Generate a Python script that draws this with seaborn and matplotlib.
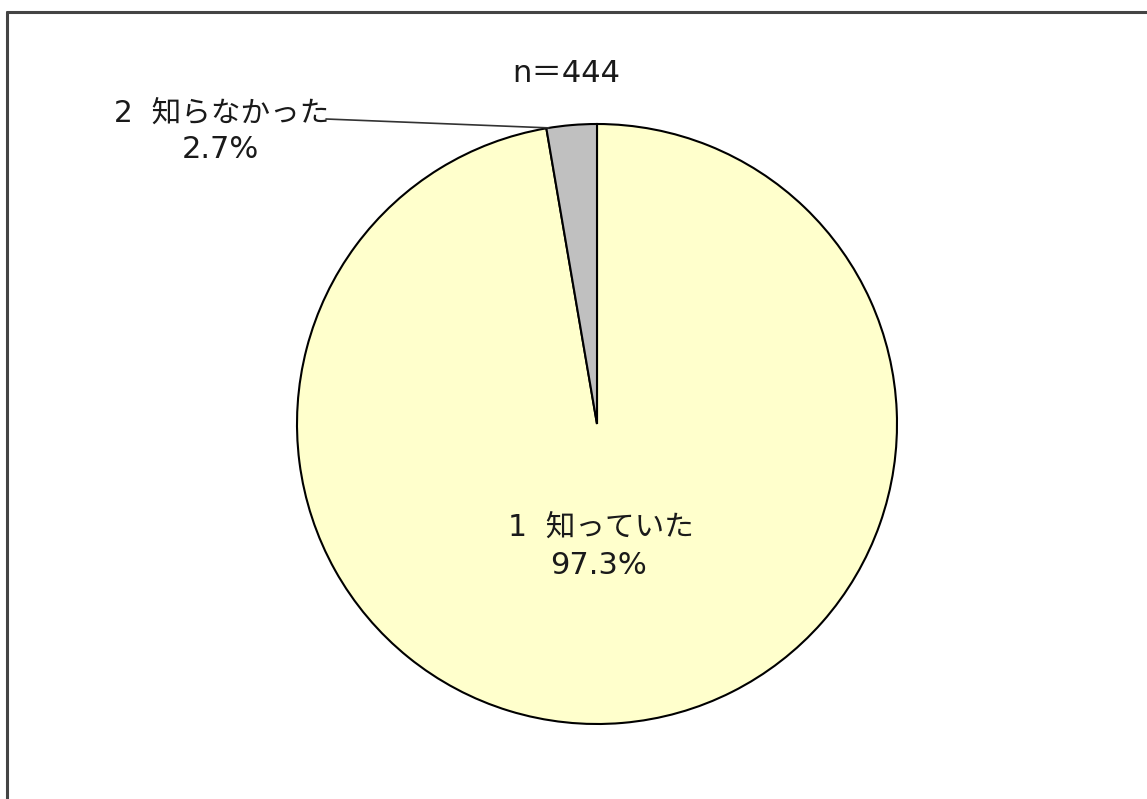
import matplotlib
matplotlib.use("Agg")
import matplotlib.pyplot as plt
import seaborn as sns
import numpy as np

categories = ["1  知っていた", "2  知らなかった"]
values = [97.3, 2.7]
pct_labels = ["97.3%", "2.7%"]
title = "n＝444"
colors = ["#FFFFCC", "#C0C0C0"]

sns.set_theme(style="white")
plt.rcParams['font.family'] = ['DejaVu Sans', 'Noto Sans CJK JP']

W, H = 1147, 799
fig = plt.figure(figsize=(W / 100, H / 100), dpi=100)
fig.patch.set_facecolor("white")

# frame lines (left and top, running off the image)
fig.add_artist(plt.Line2D([7 / W, 7 / W], [0, 1 - 12 / H], color="#444444", lw=2.2,
                          transform=fig.transFigure))
fig.add_artist(plt.Line2D([7 / W, 1], [1 - 12 / H, 1 - 12 / H], color="#444444", lw=2.2,
                          transform=fig.transFigure))

cx, cy, r = 597, 424, 300
ax = fig.add_axes([(cx - r) / W, (H - cy - r) / H, 2 * r / W, 2 * r / H])
wedges, _ = ax.pie(values, colors=colors, startangle=90, counterclock=False,
                   radius=1.0, wedgeprops=dict(edgecolor="black", linewidth=1.5))
ax.set_xlim(-1, 1)
ax.set_ylim(-1, 1)
ax.set_aspect("equal")
ax.axis("off")

fs = 22
fs_jp = 21.3
tc = "#1a1a1a"


def px2d(x, y):
    return (x - cx) / r, (cy - y) / r


# inside label for large slice
ax.text(*px2d(601, 527), categories[0], ha="center", va="center", fontsize=fs_jp, color=tc)
ax.text(*px2d(599, 565), pct_labels[0], ha="center", va="center", fontsize=fs, color=tc)

# outside label for small slice with leader line
w = wedges[1]
ang = np.deg2rad(w.theta1 + 0.95 * (w.theta2 - w.theta1))
ex, ey = np.cos(ang), np.sin(ang)
lx, ly = px2d(326, 119)
ax.plot([lx, ex], [ly, ey], color="#333333", lw=1.2, clip_on=False)
ax.text(*px2d(222, 113), categories[1], ha="center", va="center", fontsize=fs_jp,
        color=tc, clip_on=False)
ax.text(*px2d(220, 150), pct_labels[1], ha="center", va="center", fontsize=fs,
        color=tc, clip_on=False)

fig.text(566 / W, 1 - 74 / H, title, ha="center", va="center", fontsize=fs, color=tc)

fig.savefig("out.png", dpi=100, facecolor="white")
